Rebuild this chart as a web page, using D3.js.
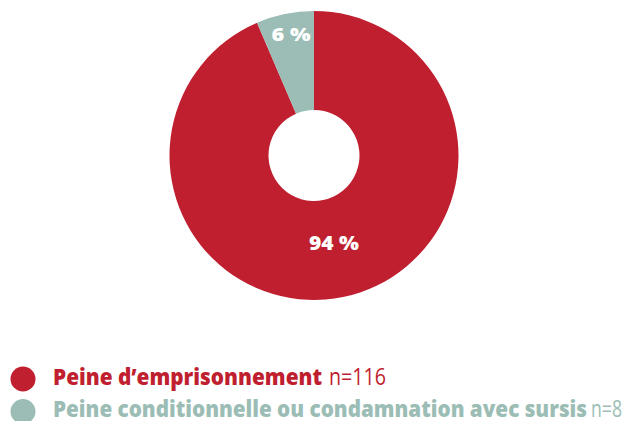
<!DOCTYPE html>
<html>
<head>
<meta charset="utf-8">
<script src="https://cdn.jsdelivr.net/npm/d3@7"></script>
<style>
  body { margin: 0; background: #fff; }
  svg text { font-family: "Open Sans", "Noto Sans", sans-serif; }
</style>
</head>
<body>
<div id="chart"></div>
<script>
const width = 625;
const height = 421;

// Data
const categories = ["Peine d’emprisonnement", "Peine conditionnelle ou condamnation avec sursis"];
const counts = [116, 8];
const percentLabels = ["94 %", "6 %"];
const colors = ["#c01f30", "#9bbdb5"];

const svg = d3.select("#chart").append("svg")
    .attr("width", width)
    .attr("height", height);

const cx = 314, cy = 155.5;
const outerR = 144.5, innerR = 45.5;

const pie = d3.pie().sort(null).value(d => d);
const arcs = pie(counts);
const arc = d3.arc().innerRadius(innerR).outerRadius(outerR);

const g = svg.append("g").attr("transform", `translate(${cx},${cy})`);

g.selectAll("path")
    .data(arcs)
    .enter().append("path")
    .attr("d", arc)
    .attr("fill", (d, i) => colors[i]);

// Percent labels (positions relative to the centre)
const pctPos = [
    { x: 20, y: 94.5, w: 50, size: 20 },
    { x: -23, y: -114.5, w: 39, size: 18 }
];
g.selectAll(".pct")
    .data(arcs)
    .enter().append("text")
    .attr("class", "pct")
    .attr("x", (d, i) => pctPos[i].x)
    .attr("y", (d, i) => pctPos[i].y)
    .attr("text-anchor", "middle")
    .attr("fill", "#fff")
    .attr("font-weight", 800)
    .attr("font-size", (d, i) => pctPos[i].size)
    .attr("textLength", (d, i) => pctPos[i].w)
    .attr("lengthAdjust", "spacingAndGlyphs")
    .text((d, i) => percentLabels[i]);

// Legend
const legend = svg.append("g");
const rows = [
    { cy: 379, base: 384.5, boldW: 269, nX: 329, nW: 57 },
    { cy: 411.5, base: 416.5, boldW: 534, nX: 591, nW: 31 }
];

categories.forEach((c, i) => {
    const r = rows[i];
    legend.append("circle")
        .attr("cx", 23)
        .attr("cy", r.cy)
        .attr("r", 12.5)
        .attr("fill", colors[i]);
    legend.append("text")
        .attr("x", 53)
        .attr("y", r.base)
        .attr("fill", colors[i])
        .attr("font-weight", 800)
        .attr("font-size", 23)
        .attr("textLength", r.boldW)
        .attr("lengthAdjust", "spacingAndGlyphs")
        .text(c);
    legend.append("text")
        .attr("x", r.nX)
        .attr("y", r.base)
        .attr("fill", colors[i])
        .attr("font-weight", 400)
        .attr("font-size", 23)
        .attr("textLength", r.nW)
        .attr("lengthAdjust", "spacingAndGlyphs")
        .text("n=" + counts[i]);
});
</script>
</body>
</html>
